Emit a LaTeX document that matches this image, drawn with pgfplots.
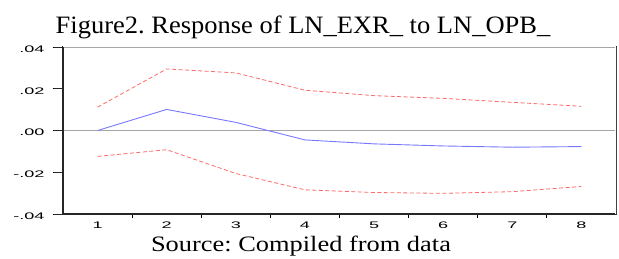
\documentclass[border=0pt]{standalone}
\usepackage{pgfplots}
\pgfplotsset{compat=1.18}
\usepackage{fontspec}
\setmainfont{Liberation Serif}
\newfontfamily\arial{Liberation Sans}
\definecolor{irfblue}{RGB}{120,120,255}
\definecolor{irfred}{RGB}{255,105,105}
\frenchspacing
\begin{document}
\begin{tikzpicture}
\path[use as bounding box] (0,0) rectangle (619pt,-258pt);
\begin{axis}[
  at={(63pt,-214pt)}, anchor=south west,
  scale only axis, width=553pt, height=167pt,
  xmin=0.5, xmax=8.5, ymin=-0.04, ymax=0.04,
  axis line style={black!85, line width=1.2pt},
  scaled y ticks=false,
  xtick={1.5,2.5,...,7.5}, xticklabels={},
  extra x ticks={1,2,3,4,5,6,7,8},
  extra x tick labels={1,2,3,4,5,6,7,8},
  extra x tick style={x tick style={draw=none}},
  x tick style={black, line width=0.8pt, /pgfplots/major tick length=4pt},
  ytick={-0.04,-0.02,0,0.02,0.04},
  yticklabels={-.04,-.02,.00,.02,.04},
  y tick style={black, line width=1pt, /pgfplots/major tick length=10pt},
  major tick length=10pt,
  tick align=outside,
  xtick pos=bottom, ytick pos=left,
  tick label style={font=\arial\fontsize{9.5}{11}\selectfont, xscale=1.9},
  xticklabel style={yshift=6pt},
  yticklabel style={xshift=-1pt, yshift=-2pt},
  clip=false,
]
\draw[gray!70, line width=0.8pt] (rel axis cs:0,0.5) -- (rel axis cs:1,0.5);
\addplot[irfred, line width=0.8pt, dash pattern=on 4pt off 2.5pt] coordinates {
(1,0.0112) (2,0.0295) (3,0.0276) (4,0.0193) (5,0.0167) (6,0.0154) (7,0.0135) (8,0.0116)};
\addplot[irfred, line width=0.8pt, dash pattern=on 4pt off 2.5pt] coordinates {
(1,-0.0124) (2,-0.0092) (3,-0.0206) (4,-0.0284) (5,-0.0297) (6,-0.0301) (7,-0.0293) (8,-0.0268)};
\addplot[irfblue, line width=0.9pt] coordinates {
(1,0) (2,0.0101) (3,0.0039) (4,-0.0045) (5,-0.0064) (6,-0.0074) (7,-0.0080) (8,-0.0077)};
\draw[white, line width=1.4pt] (rel axis cs:0,1) -- (rel axis cs:1,1);
\draw[gray!70, line width=1pt] (rel axis cs:0,1) -- (rel axis cs:1,1);
\draw[white, line width=1.4pt] (rel axis cs:1,0) -- (rel axis cs:1,1);
\draw[black!75, line width=0.7pt] (rel axis cs:1,0) -- (rel axis cs:1,1);
\draw[black!85, line width=1.6pt] (rel axis cs:0,0) -- (rel axis cs:0,1);
\draw[black!85, line width=1pt] (rel axis cs:0,0) -- ++(-9pt,0pt);
\draw[black!85, line width=1pt] (rel axis cs:0,0.25) -- ++(-9pt,0pt);
\draw[black!85, line width=1pt] (rel axis cs:0,0.5) -- ++(-9pt,0pt);
\draw[black!85, line width=1pt] (rel axis cs:0,0.75) -- ++(-9pt,0pt);
\draw[black!85, line width=1pt] (rel axis cs:0,1) -- ++(-9pt,0pt);
\end{axis}
\node[font=\fontsize{25}{28}\selectfont, anchor=base, xscale=1.06] at (303pt,-33pt) {Figure2. Response of LN\_EXR\_ to LN\_OPB\_};
\node[font=\fontsize{22}{25}\selectfont, anchor=base, xscale=1.2] at (301pt,-251pt) {Source: Compiled from data};
\end{tikzpicture}
\end{document}
